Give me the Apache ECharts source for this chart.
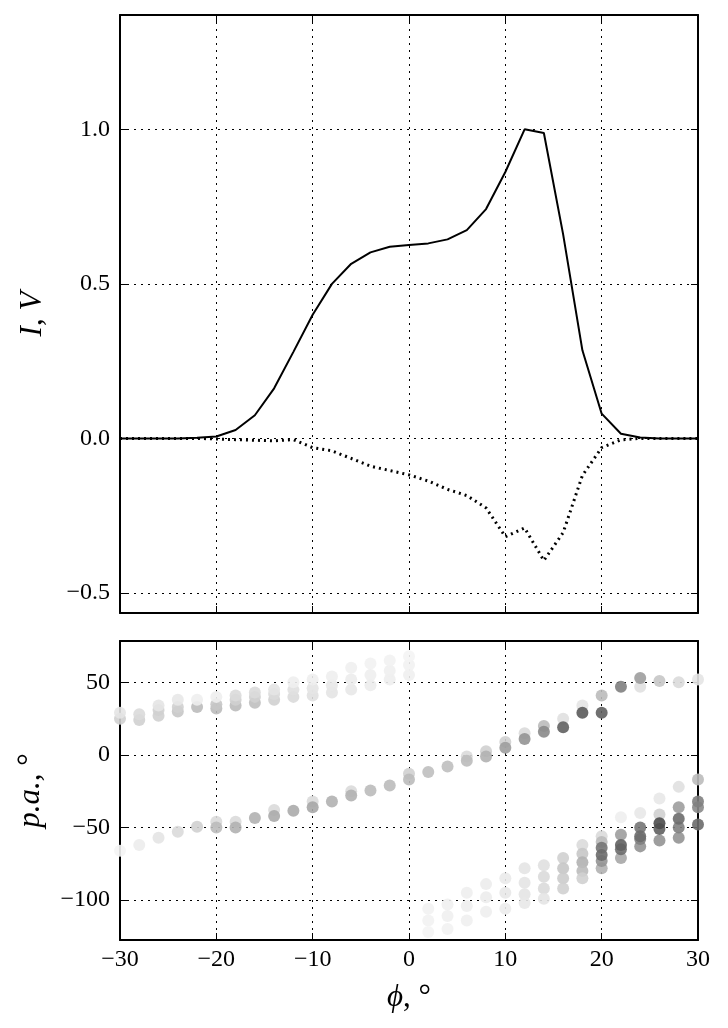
<!DOCTYPE html>
<html>
<head>
<meta charset="utf-8">
<script src="https://cdn.jsdelivr.net/npm/echarts@6/dist/echarts.min.js"></script>
<style>
  html, body { margin: 0; padding: 0; background: #fff; }
  #main { width: 728px; height: 1028px; }
</style>
</head>
<body>
<div id="main"></div>
<script>
// longitude phi, degrees
var phi = [-30, -28, -26, -24, -22, -20, -18, -16, -14, -12, -10, -8, -6, -4, -2, 0,
  2, 4, 6, 8, 10, 12, 14, 16, 18, 20, 22, 24, 26, 28, 30];
// total intensity I (solid) and circular polarisation V (dotted)
var intensity = [0, 0, 0, 0, 0.002, 0.006, 0.027, 0.075, 0.162, 0.28, 0.40, 0.50, 0.565,
  0.602, 0.62, 0.626, 0.631, 0.644, 0.674, 0.742, 0.862, 1.0, 0.988, 0.66, 0.285, 0.08,
  0.015, 0.003, 0, 0, 0];
var circPol = [0, 0, 0, 0, 0, -0.002, -0.004, -0.006, -0.008, -0.004, -0.03, -0.04, -0.065,
  -0.09, -0.104, -0.118, -0.138, -0.165, -0.185, -0.225, -0.318, -0.29, -0.395, -0.305,
  -0.12, -0.03, -0.005, 0, 0, 0, 0];

// position angle points: [phi, p.a., weight]
var paUpper = [
  [-30, 25, 0.2], [-30, 29, 0.1], [-28, 24, 0.2], [-28, 28, 0.15],
  [-26, 27, 0.2], [-26, 31, 0.2], [-26, 34, 0.1], [-24, 30, 0.25], [-24, 33, 0.2], [-24, 38, 0.08],
  [-22, 33, 0.3], [-22, 38, 0.05], [-20, 32, 0.3], [-20, 35, 0.25], [-20, 40, 0.05],
  [-18, 34, 0.3], [-18, 38, 0.2], [-18, 41, 0.15], [-16, 36, 0.28], [-16, 40, 0.2], [-16, 43, 0.15],
  [-14, 38, 0.2], [-14, 42, 0.15], [-14, 45, 0.1], [-12, 40, 0.15], [-12, 45, 0.12], [-12, 50, 0.05],
  [-10, 41, 0.12], [-10, 46, 0.1], [-10, 52, 0.05], [-8, 43, 0.1], [-8, 48, 0.08], [-8, 54, 0.05],
  [-6, 45, 0.08], [-6, 52, 0.06], [-6, 60, 0.04], [-4, 48, 0.06], [-4, 55, 0.05], [-4, 63, 0.03],
  [-2, 52, 0.05], [-2, 58, 0.04], [-2, 65, 0.03], [0, 55, 0.04], [0, 62, 0.03], [0, 68, 0.02]
];
var paMiddle = [
  [-30, -66, 0.02], [-28, -62, 0.06], [-26, -57, 0.1], [-24, -53, 0.15], [-22, -49.5, 0.2],
  [-20, -46, 0.15], [-20, -50, 0.3], [-18, -46, 0.15], [-18, -50, 0.35], [-16, -43.5, 0.35],
  [-14, -38, 0.15], [-14, -42, 0.38], [-12, -38.5, 0.38], [-10, -32, 0.15], [-10, -36, 0.4],
  [-8, -32, 0.35], [-6, -25, 0.15], [-6, -28, 0.35], [-4, -24.5, 0.3], [-2, -21, 0.3],
  [0, -13, 0.2], [0, -17, 0.3], [2, -11.7, 0.28], [4, -8, 0.28], [6, -1, 0.15], [6, -4, 0.3],
  [8, 2.5, 0.2], [8, -1, 0.35], [10, 9, 0.2], [10, 5, 0.45], [12, 15, 0.15], [12, 11, 0.5],
  [14, 20, 0.3], [14, 16, 0.55], [16, 25, 0.12], [16, 19, 0.75], [18, 34, 0.1], [18, 29, 0.78],
  [20, 41, 0.3], [20, 29, 0.75], [22, 47, 0.6], [24, 47, 0.12], [24, 53, 0.45],
  [26, 51, 0.25], [28, 50, 0.15], [30, 52, 0.1]
];
var paLower = [
  [2, -106, 0.03], [2, -114, 0.03], [2, -122, 0.02], [4, -103, 0.04], [4, -111, 0.04], [4, -120, 0.03],
  [6, -95, 0.05], [6, -104, 0.05], [6, -114, 0.04], [8, -89, 0.06], [8, -98, 0.06], [8, -108, 0.05],
  [10, -85, 0.07], [10, -95, 0.08], [10, -106, 0.06],
  [12, -78, 0.1], [12, -88, 0.1], [12, -96, 0.1], [12, -102, 0.08],
  [14, -76, 0.12], [14, -84, 0.15], [14, -92, 0.15], [14, -99, 0.1],
  [16, -71, 0.2], [16, -78, 0.25], [16, -85, 0.22], [16, -92, 0.2],
  [18, -62, 0.15], [18, -68, 0.25], [18, -74, 0.35], [18, -80, 0.3], [18, -85, 0.2],
  [20, -56, 0.15], [20, -60, 0.3], [20, -78, 0.35], [20, -73, 0.5], [20, -64, 0.65], [20, -69, 0.7],
  [22, -43, 0.05], [22, -55, 0.45], [22, -71, 0.4], [22, -65, 0.7], [22, -62, 0.75],
  [24, -40, 0.08], [24, -63, 0.5], [24, -58, 0.6], [24, -50, 0.65], [24, -56, 0.7],
  [26, -30, 0.08], [26, -41, 0.2], [26, -59, 0.5], [26, -51, 0.75], [26, -47, 0.85],
  [28, -22, 0.12], [28, -36, 0.45], [28, -57, 0.5], [28, -50, 0.6], [28, -44, 0.7],
  [30, -17, 0.3], [30, -36, 0.55], [30, -32, 0.6], [30, -48, 0.7]
];

var FONT = 'Liberation Serif';
var BLACK = '#000';

function minus(v) {
  return String(v).replace('-', '\u2212');
}

// one axis of the frame; labelled axes also carry the dotted grid
function frameAxis(kind, gridIndex, pos, range, labels, fmt) {
  var ax = {
    type: 'value',
    gridIndex: gridIndex,
    position: pos,
    min: range[0],
    max: range[1],
    axisLine: { show: true, onZero: false, lineStyle: { color: BLACK, width: 2 } },
    axisTick: { show: true, inside: true, length: 7, lineStyle: { color: BLACK, width: 1 } },
    axisLabel: {
      show: labels,
      showMinLabel: false,
      showMaxLabel: false,
      margin: 10,
      color: BLACK,
      fontFamily: FONT,
      fontSize: 24,
      formatter: fmt
    },
    splitLine: {
      show: labels || (kind === 'x' && pos === 'bottom'),
      lineStyle: { color: BLACK, width: 1, type: [2, 5] }
    }
  };
  if (kind === 'x') {
    ax.interval = 10;
  } else {
    ax.splitNumber = 4;
  }
  return ax;
}

var chart = echarts.init(document.getElementById('main'), null, { renderer: 'canvas' });

var xr = [-30, 30];
var yTop = [-0.565, 1.37];
var yBot = [-127.5, 78.5];

var nameStyle = {
  rich: {
    i: { fontFamily: FONT, fontStyle: 'italic', fontSize: 31, color: BLACK },
    n: { fontFamily: FONT, fontSize: 31, color: BLACK }
  }
};

var topX = frameAxis('x', 0, 'bottom', xr, false);
var botX = frameAxis('x', 1, 'bottom', xr, true, function (v) { return minus(v); });
botX.axisLabel.showMinLabel = true;
botX.axisLabel.showMaxLabel = true;
botX.axisLabel.margin = 8;
botX.name = '{i|\u03D5}{n|, \u00B0}';
botX.nameLocation = 'middle';
botX.nameGap = 42;
botX.nameTextStyle = nameStyle;

var topY = frameAxis('y', 0, 'left', yTop, true, function (v) { return minus(v.toFixed(1)); });
topY.name = '{i|I}{n|, }{i|V}';
topY.nameLocation = 'middle';
topY.nameRotate = 90;
topY.nameGap = 72;
topY.nameTextStyle = nameStyle;

var botY = frameAxis('y', 1, 'left', yBot, true, function (v) { return minus(v); });
botY.name = '{i|p.a.,}{n| \u00B0}';
botY.nameLocation = 'middle';
botY.nameRotate = 90;
botY.nameGap = 74;
botY.nameTextStyle = nameStyle;

var option = {
  animation: false,
  backgroundColor: '#fff',
  grid: [
    { left: 120, top: 15, width: 578, height: 598 },
    { left: 120, top: 641, width: 578, height: 299 }
  ],
  xAxis: [
    topX,
    frameAxis('x', 0, 'top', xr, false),
    botX,
    frameAxis('x', 1, 'top', xr, false)
  ],
  yAxis: [
    topY,
    frameAxis('y', 0, 'right', yTop, false),
    botY,
    frameAxis('y', 1, 'right', yBot, false)
  ],
  visualMap: {
    show: false,
    type: 'continuous',
    seriesIndex: [2, 3, 4],
    dimension: 2,
    min: 0,
    max: 1,
    inRange: { color: ['#f8f8f8', '#2e2e2e'] }
  },
  series: [
    {
      type: 'line',
      xAxisIndex: 0,
      yAxisIndex: 0,
      showSymbol: false,
      data: phi.map(function (x, i) { return [x, circPol[i]]; }),
      lineStyle: { color: BLACK, width: 3, type: [2, 4], cap: 'butt' },
      z: 3
    },
    {
      type: 'line',
      xAxisIndex: 0,
      yAxisIndex: 0,
      showSymbol: false,
      data: phi.map(function (x, i) { return [x, intensity[i]]; }),
      lineStyle: { color: BLACK, width: 2 },
      z: 4
    },
    { type: 'scatter', xAxisIndex: 2, yAxisIndex: 2, symbolSize: 12, data: paUpper, clip: true, itemStyle: { opacity: 0.9 } },
    { type: 'scatter', xAxisIndex: 2, yAxisIndex: 2, symbolSize: 12, data: paMiddle, clip: true, itemStyle: { opacity: 0.9 } },
    { type: 'scatter', xAxisIndex: 2, yAxisIndex: 2, symbolSize: 12, data: paLower, clip: true, itemStyle: { opacity: 0.9 } }
  ]
};

chart.setOption(option);
</script>
</body>
</html>
